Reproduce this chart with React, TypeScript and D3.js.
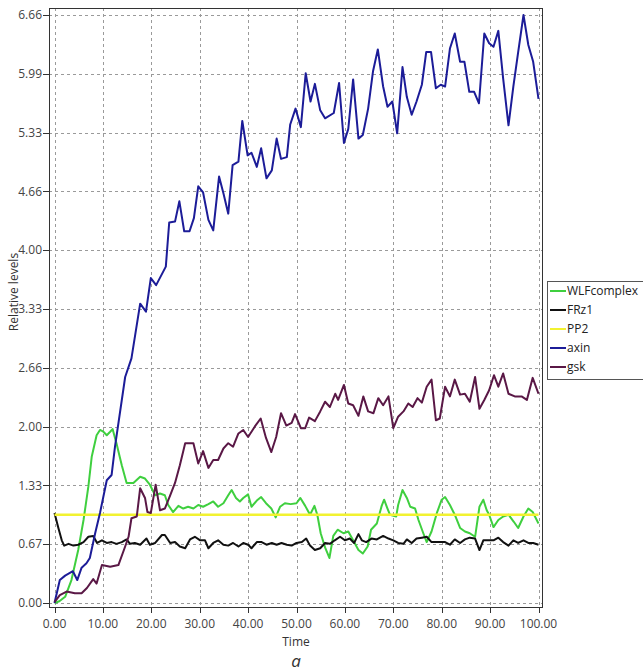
import React from "react";
import * as d3 from "d3";

// Simulation output: [time, relative level]
const wlfComplex: [number, number][] = [
  [0, 0], [1.0, 0.02], [2.2, 0.07], [3.5, 0.26], [4.9, 0.6], [6.0, 0.94], [7.0, 1.32], [7.7, 1.66],
  [8.7, 1.9], [9.4, 1.96], [10.1, 1.94], [10.8, 1.9], [11.5, 1.94], [12.0, 1.97], [12.8, 1.81],
  [13.9, 1.56], [14.9, 1.36], [16.3, 1.36], [17.7, 1.43], [18.7, 1.41], [19.7, 1.34], [20.8, 1.22],
  [21.8, 1.24], [22.8, 1.22], [23.5, 1.11], [24.5, 1.03], [25.6, 1.1], [26.6, 1.07], [27.6, 1.09],
  [28.7, 1.07], [29.7, 1.11], [30.7, 1.09], [31.8, 1.12], [32.8, 1.15], [33.8, 1.09], [34.9, 1.13],
  [35.9, 1.22], [36.6, 1.28], [37.5, 1.19], [38.3, 1.15], [39.0, 1.19], [40.0, 1.23], [40.7, 1.09],
  [41.8, 1.16], [42.7, 1.2], [43.7, 1.13], [44.8, 1.07], [45.7, 0.97], [46.6, 1.09], [47.6, 1.13],
  [48.8, 1.12], [50.0, 1.13], [50.8, 1.19], [51.8, 1.1], [52.8, 1.0], [53.7, 1.1], [54.3, 1.0],
  [55.0, 0.79], [55.9, 0.63], [56.8, 0.51], [57.6, 0.76], [58.5, 0.83], [59.7, 0.79], [60.7, 0.81],
  [61.7, 0.71], [62.8, 0.6], [63.7, 0.56], [64.7, 0.64], [65.4, 0.83], [66.6, 0.9], [67.6, 1.1],
  [68.1, 1.17], [68.8, 1.07], [69.3, 1.0], [70.6, 0.98], [71.0, 1.11], [71.9, 1.28], [72.8, 1.19],
  [73.5, 1.09], [74.5, 1.07], [75.2, 0.94], [76.2, 0.79], [76.9, 0.69], [77.9, 0.81], [79.0, 1.02],
  [80.0, 1.17], [80.7, 1.2], [81.7, 1.11], [82.7, 1.0], [83.8, 0.85], [84.8, 0.81], [85.8, 0.79],
  [86.9, 0.75], [87.8, 1.09], [88.6, 1.17], [89.3, 1.05], [89.8, 1.0], [90.7, 0.86], [91.7, 0.94],
  [92.7, 0.98], [93.8, 1.0], [94.9, 0.92], [95.8, 0.85], [96.9, 0.98], [97.9, 1.07], [98.8, 1.03],
  [100, 0.9],
];

const frz1: [number, number][] = [
  [0, 1.02], [0.8, 0.85], [1.5, 0.71], [2.0, 0.65], [2.9, 0.67], [3.9, 0.65], [4.9, 0.66], [6.0, 0.69],
  [7.0, 0.75], [8.0, 0.76], [8.8, 0.68], [9.8, 0.71], [10.8, 0.68], [11.8, 0.69], [12.8, 0.67],
  [13.9, 0.69], [14.9, 0.72], [15.6, 0.67], [16.6, 0.68], [17.7, 0.66], [19.0, 0.73], [19.7, 0.66],
  [20.8, 0.68], [22.2, 0.77], [22.8, 0.77], [23.9, 0.68], [24.9, 0.69], [25.9, 0.64], [27.0, 0.62],
  [28.0, 0.72], [29.0, 0.75], [30.1, 0.71], [31.1, 0.71], [31.8, 0.62], [32.8, 0.68], [33.8, 0.71],
  [34.9, 0.66], [35.9, 0.65], [36.9, 0.68], [38.0, 0.64], [39.0, 0.68], [40.0, 0.66], [40.7, 0.62],
  [41.8, 0.69], [42.8, 0.69], [43.8, 0.66], [44.9, 0.68], [45.9, 0.66], [46.9, 0.68], [48.0, 0.66],
  [49.0, 0.65], [50.0, 0.68], [51.1, 0.69], [52.0, 0.73], [52.8, 0.65], [53.8, 0.6], [54.9, 0.62],
  [55.9, 0.68], [56.9, 0.67], [57.9, 0.71], [59.0, 0.75], [60.0, 0.71], [61.0, 0.73], [61.9, 0.68],
  [62.8, 0.78], [63.5, 0.71], [64.4, 0.69], [65.5, 0.73], [66.6, 0.72], [67.9, 0.76], [69.0, 0.73],
  [70.0, 0.71], [71.0, 0.68], [72.1, 0.67], [72.8, 0.72], [73.8, 0.68], [74.8, 0.73], [75.9, 0.74],
  [76.9, 0.75], [77.9, 0.69], [79.0, 0.69], [80.7, 0.69], [81.7, 0.66], [82.7, 0.72], [83.8, 0.68],
  [84.8, 0.72], [85.8, 0.74], [86.9, 0.73], [87.8, 0.6], [88.6, 0.71], [89.6, 0.71], [90.7, 0.71],
  [91.7, 0.74], [92.7, 0.69], [93.8, 0.65], [94.8, 0.71], [95.8, 0.68], [96.9, 0.71], [97.9, 0.68],
  [98.9, 0.68], [100, 0.66],
];

const pp2: [number, number][] = [
  [0, 1.0], [100, 1.0],
];

const axin: [number, number][] = [
  [0, 0], [1.1, 0.26], [2.2, 0.31], [3.8, 0.36], [4.7, 0.26], [5.6, 0.4], [6.6, 0.45], [7.3, 0.51],
  [8.4, 0.79], [9.4, 1.02], [10.8, 1.39], [11.8, 1.45], [12.5, 1.77], [14.6, 2.56], [15.9, 2.77],
  [17.7, 3.39], [18.9, 3.3], [19.9, 3.68], [21.0, 3.6], [23.0, 3.81], [23.7, 4.31], [24.9, 4.32],
  [25.8, 4.55], [26.8, 4.21], [27.9, 4.21], [28.8, 4.36], [29.7, 4.72], [30.7, 4.65], [31.8, 4.34],
  [32.8, 4.22], [34.0, 4.83], [34.9, 4.64], [35.9, 4.41], [36.8, 4.96], [38.0, 5.0], [38.8, 5.46],
  [39.9, 5.07], [40.7, 5.1], [41.8, 4.94], [42.7, 5.15], [43.8, 4.81], [44.9, 4.9], [45.9, 5.26],
  [46.8, 5.03], [48.0, 5.05], [48.7, 5.42], [49.8, 5.6], [50.9, 5.39], [51.9, 6.0], [52.9, 5.68],
  [53.8, 5.88], [54.9, 5.58], [55.9, 5.49], [57.7, 5.55], [58.8, 5.89], [59.8, 5.21], [60.7, 5.37],
  [61.7, 5.93], [62.8, 5.26], [63.7, 5.3], [64.8, 5.6], [65.8, 6.02], [66.8, 6.27], [67.9, 5.85],
  [68.8, 5.62], [69.8, 5.68], [70.8, 5.32], [71.9, 6.07], [72.8, 5.73], [73.8, 5.53], [74.8, 5.68],
  [75.9, 5.87], [76.8, 6.24], [77.8, 6.24], [78.8, 5.83], [79.8, 5.87], [80.7, 5.85], [81.7, 6.28],
  [82.7, 6.45], [83.8, 6.13], [84.7, 6.13], [85.7, 5.79], [86.7, 5.79], [87.7, 5.66], [88.8, 6.45],
  [89.8, 6.34], [90.7, 6.3], [91.7, 6.48], [92.7, 5.94], [93.8, 5.41], [94.8, 5.85], [95.8, 6.24],
  [96.9, 6.66], [97.9, 6.32], [98.9, 6.13], [100, 5.71],
];

const gsk: [number, number][] = [
  [0, 0.01], [1.1, 0.09], [2.5, 0.13], [4.2, 0.11], [5.6, 0.11], [6.7, 0.17], [8.0, 0.27], [8.7, 0.22],
  [9.8, 0.43], [11.5, 0.41], [13.2, 0.43], [14.6, 0.64], [15.3, 0.75], [15.9, 0.96], [17.0, 0.98],
  [17.7, 1.3], [18.7, 1.19], [19.2, 1.03], [19.9, 1.02], [20.9, 1.34], [21.8, 1.05], [22.8, 1.07],
  [23.9, 1.22], [24.9, 1.36], [25.9, 1.56], [27.0, 1.81], [28.7, 1.81], [29.7, 1.58], [30.7, 1.72],
  [31.8, 1.53], [32.8, 1.62], [33.8, 1.62], [34.9, 1.75], [35.9, 1.81], [36.9, 1.77], [38.0, 1.92],
  [39.0, 1.96], [40.0, 1.88], [41.4, 2.0], [42.6, 2.09], [43.7, 1.87], [44.8, 1.71], [45.8, 1.88],
  [46.8, 2.15], [47.9, 2.01], [49.0, 2.04], [49.7, 2.14], [50.9, 1.98], [51.8, 1.98], [52.6, 2.1],
  [53.8, 2.06], [54.9, 2.17], [55.9, 2.28], [56.9, 2.22], [58.0, 2.37], [58.6, 2.3], [59.8, 2.47],
  [60.7, 2.26], [61.7, 2.24], [62.8, 2.12], [63.8, 2.34], [64.8, 2.17], [65.9, 2.15], [66.9, 2.32],
  [67.9, 2.24], [69.0, 2.34], [70.0, 1.98], [71.0, 2.11], [72.1, 2.17], [73.1, 2.26], [74.0, 2.22],
  [75.0, 2.32], [75.9, 2.27], [76.9, 2.45], [77.9, 2.53], [78.8, 2.07], [79.6, 2.09], [80.7, 2.45],
  [81.7, 2.34], [82.7, 2.53], [83.8, 2.36], [84.8, 2.37], [85.8, 2.28], [86.9, 2.56], [87.8, 2.2],
  [88.8, 2.3], [89.8, 2.41], [90.8, 2.58], [91.7, 2.45], [92.7, 2.6], [93.8, 2.37], [95.1, 2.34],
  [96.5, 2.34], [97.6, 2.3], [98.8, 2.55], [100, 2.37],
];

const seriesNames = ["WLFcomplex", "FRz1", "PP2", "axin", "gsk"];
const seriesColors = ["#3fcf3f", "#111111", "#f2f230", "#1c1c98", "#5a1846"];
const seriesData = [wlfComplex, frz1, pp2, axin, gsk];

const xTicks = [0, 10, 20, 30, 40, 50, 60, 70, 80, 90, 100];
const yTicks = [0, 0.666, 1.332, 1.998, 2.664, 3.33, 3.996, 4.662, 5.328, 5.994, 6.66];

const W = 643;
const H = 672;
const FONT = "'Open Sans', 'Noto Sans', sans-serif";

export default function App() {
  const x = d3.scaleLinear().domain([0, 100]).range([54.5, 538.5]);
  const y = d3.scaleLinear().domain([0, 6.66]).range([603, 15]);
  const frame = { left: 49, top: 8, right: 542, bottom: 607 };

  const line = d3
    .line<[number, number]>()
    .x((d) => x(d[0]))
    .y((d) => y(d[1]));

  const legendX = 547;
  const legendY = 281;
  const legendRow = 19;

  return (
    <svg
      width={W}
      height={H}
      style={{ position: "absolute", left: 0, top: 0, background: "#fff" }}
      fontFamily={FONT}
    >
      <rect x={0} y={0} width={W} height={H} fill="#fff" />

      {/* grid */}
      <g stroke="#9a9a9a" strokeWidth={1} strokeDasharray="3,3">
        {xTicks.map((t) => (
          <line key={"gx" + t} x1={Math.round(x(t)) + 0.5} x2={Math.round(x(t)) + 0.5} y1={frame.top} y2={frame.bottom} />
        ))}
        {yTicks.map((t) => (
          <line key={"gy" + t} x1={frame.left} x2={frame.right} y1={Math.round(y(t)) + 0.5} y2={Math.round(y(t)) + 0.5} />
        ))}
      </g>

      {/* series */}
      <g fill="none" strokeLinejoin="round">
        {seriesData.map((d, i) => (
          <path
            key={seriesNames[i]}
            d={line(d) || ""}
            stroke={seriesColors[i]}
            strokeWidth={seriesNames[i] === "PP2" ? 2.5 : 2}
          />
        ))}
      </g>

      {/* frame */}
      <rect
        x={frame.left + 0.5}
        y={frame.top + 0.5}
        width={frame.right - frame.left}
        height={frame.bottom - frame.top}
        fill="none"
        stroke="#333"
        strokeWidth={1}
      />

      {/* y axis ticks */}
      <g>
        {yTicks.map((t) => (
          <g key={"yt" + t}>
            <line x1={frame.left - 6} x2={frame.left} y1={Math.round(y(t)) + 0.5} y2={Math.round(y(t)) + 0.5} stroke="#333" />
            <text x={frame.left - 7} y={y(t)} dy="0.35em" textAnchor="end" fontSize={12} fill="#444">
              {d3.format(".2f")(t)}
            </text>
          </g>
        ))}
      </g>

      {/* x axis ticks */}
      <g>
        {xTicks.map((t) => (
          <g key={"xt" + t}>
            <line x1={Math.round(x(t)) + 0.5} x2={Math.round(x(t)) + 0.5} y1={frame.bottom} y2={frame.bottom + 6} stroke="#333" />
            <text x={x(t)} y={frame.bottom + 17} dy="0.35em" textAnchor="middle" fontSize={12} fill="#444">
              {d3.format(".2f")(t)}
            </text>
          </g>
        ))}
      </g>

      {/* axis titles */}
      <text x={296} y={642} dy="0.35em" textAnchor="middle" fontSize={12} fill="#333">
        Time
      </text>
      <text
        transform={`translate(14, 292) rotate(-90)`}
        textAnchor="middle"
        dy="0.35em"
        fontSize={12}
        fill="#333"
      >
        Relative levels
      </text>
      <text x={296} y={661} dy="0.35em" textAnchor="middle" fontSize={17} fontStyle="italic" fill="#333">
        a
      </text>

      {/* legend */}
      <g>
        <rect x={legendX + 0.5} y={legendY + 0.5} width={110} height={98} fill="#fff" stroke="#555" />
        {seriesNames.map((name, i) => {
          const cy = legendY + 10 + i * legendRow;
          return (
            <g key={"lg" + name}>
              <line x1={legendX + 3} x2={legendX + 19} y1={cy} y2={cy} stroke={seriesColors[i]} strokeWidth={2} />
              <text x={legendX + 20} y={cy} dy="0.35em" fontSize={12} fill="#222">
                {name}
              </text>
            </g>
          );
        })}
      </g>
    </svg>
  );
}
